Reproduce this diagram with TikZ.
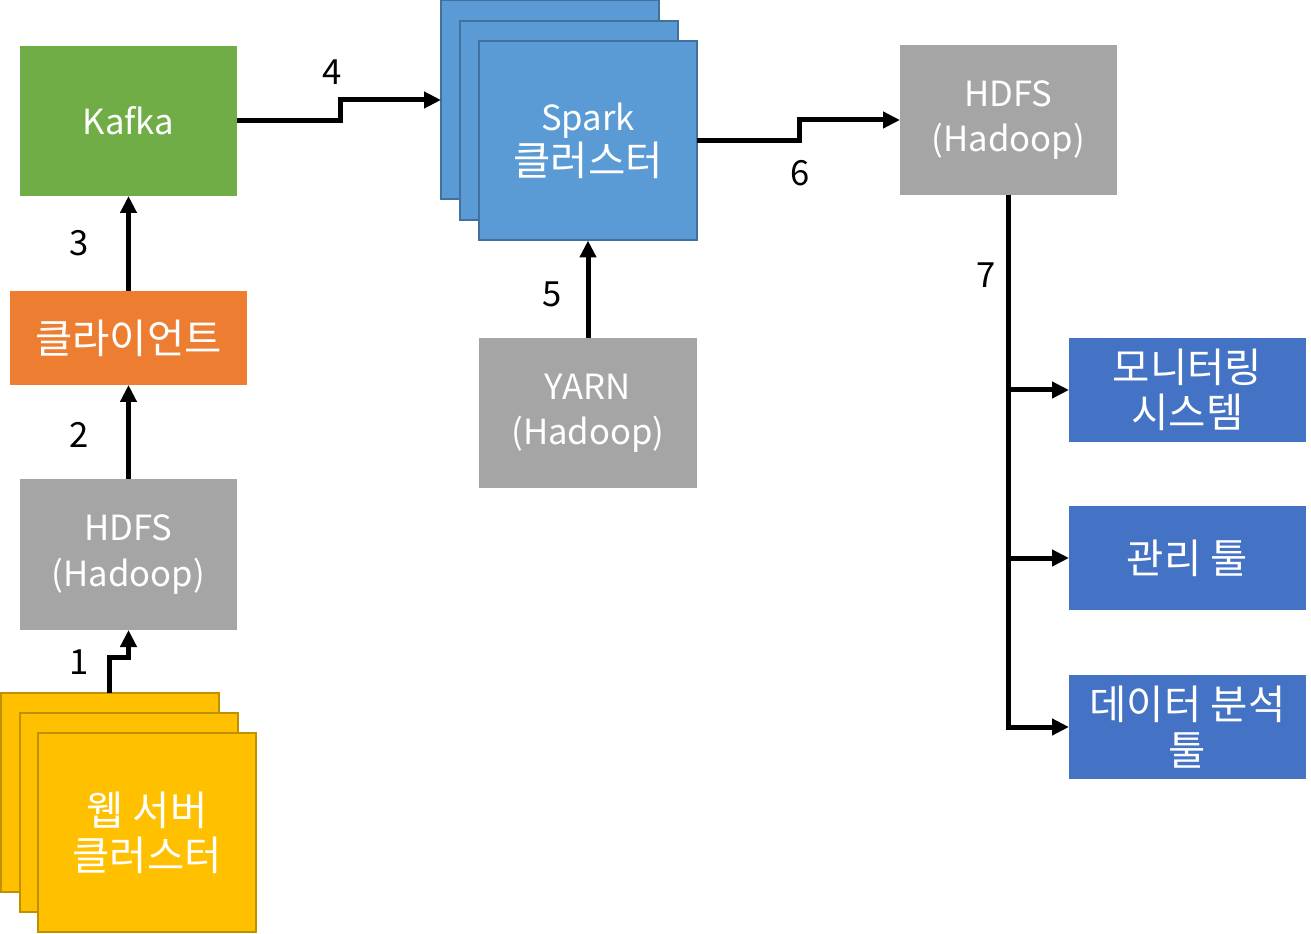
\documentclass[tikz,border=0pt]{standalone}
\usepackage{fontspec}
\setmainfont{Noto Sans CJK KR}
\newfontfamily\krfont[Scale=1.17]{Noto Sans CJK KR}
\usepackage{tikz}
\usetikzlibrary{arrows.meta,positioning}

\definecolor{kafkagreen}{HTML}{70AD47}
\definecolor{clientorange}{HTML}{ED7D31}
\definecolor{hadoopgray}{HTML}{A5A5A5}
\definecolor{webyellow}{HTML}{FFC000}
\definecolor{webedge}{HTML}{BF9000}
\definecolor{sparkblue}{HTML}{5B9BD5}
\definecolor{sparkedge}{HTML}{41719C}
\definecolor{toolblue}{HTML}{4472C4}

\begin{document}
\begin{tikzpicture}[x=0.75pt, y=-0.75pt,
    box/.style={rectangle, fill=hadoopgray, text=white, align=center, inner sep=0pt, outer sep=0pt, minimum width=162.75pt, minimum height=112.5pt, font=\fontsize{26}{34}\selectfont},
    stackbox/.style={box, fill=#1, minimum width=163.5pt, minimum height=149.25pt},
    toolbox/.style={box, fill=toolblue, minimum width=177.75pt, minimum height=78pt},
    arrow/.style={-{Triangle[length=12.75pt,width=12pt]}, line width=3.75pt},
    num/.style={font=\fontsize{26}{30}\selectfont}
]
\useasboundingbox (0,0) rectangle (1311,934);

% left column
\node[box, fill=kafkagreen] (kafka) at (128.5,121) {Kafka};
\node[box, fill=clientorange, minimum width=177.75pt, minimum height=70.5pt] (client) at (128.5,338) {\krfont 클라이언트};
\node[box, minimum height=113.25pt] (hdfsl) at (128.5,554.5) {HDFS\\(Hadoop)};
\node[stackbox=webyellow, draw=webedge, line width=1.5pt] (web1) at (109.5,792) {};
\node[stackbox=webyellow, draw=webedge, line width=1.5pt] (web2) at (128.5,812) {};
\node[stackbox=webyellow, draw=webedge, line width=1.5pt] (web3) at (147,832.5) {\krfont 웹 서버\\\krfont 클러스터};

% spark
\node[stackbox=sparkblue, draw=sparkedge, line width=1.5pt] (spark1) at (550,100) {};
\node[stackbox=sparkblue, draw=sparkedge, line width=1.5pt] (spark2) at (569,120.5) {};
\node[stackbox=sparkblue, draw=sparkedge, line width=1.5pt] (spark3) at (588,141) {Spark\\\krfont 클러스터};
\node[box, minimum width=163.5pt] (yarn) at (588,413) {YARN\\(Hadoop)};

% right column
\node[box] (hdfsr) at (1008.5,120) {HDFS\\(Hadoop)};
\node[toolbox] (monitor) at (1187.5,390) {\krfont 모니터링\\\krfont 시스템};
\node[toolbox] (manage) at (1187.5,558) {\krfont 관리 툴};
\node[toolbox] (analysis) at (1187.5,727) {\krfont 데이터 분석\\\krfont 툴};

\draw[arrow] (web1.north) -- ++(0,-35) -| (hdfsl.south);
\draw[arrow] (hdfsl.north) -- (client.south);
\draw[arrow] (client.north) -- (kafka.south);
\draw[arrow] (kafka.east) -- ++(103,0) |- (spark1.west);
\draw[arrow] (yarn.north) -- (spark3.south);
\draw[arrow] (spark3.east) -- ++(102,0) |- (hdfsr.west);
\draw[arrow] (hdfsr.south) |- (monitor.west);
\draw[arrow] (hdfsr.south) |- (manage.west);
\draw[arrow] (hdfsr.south) |- (analysis.west);

\node[num] (n1) at (79,662) {1};
\node[num] (n2) at (79,435) {2};
\node[num] (n3) at (79,243) {3};
\node[num] (n4) at (332,72) {4};
\node[num] (n5) at (552,294) {5};
\node[num] (n6) at (800,173) {6};
\node[num] (n7) at (986,275) {7};

\end{tikzpicture}
\end{document}
